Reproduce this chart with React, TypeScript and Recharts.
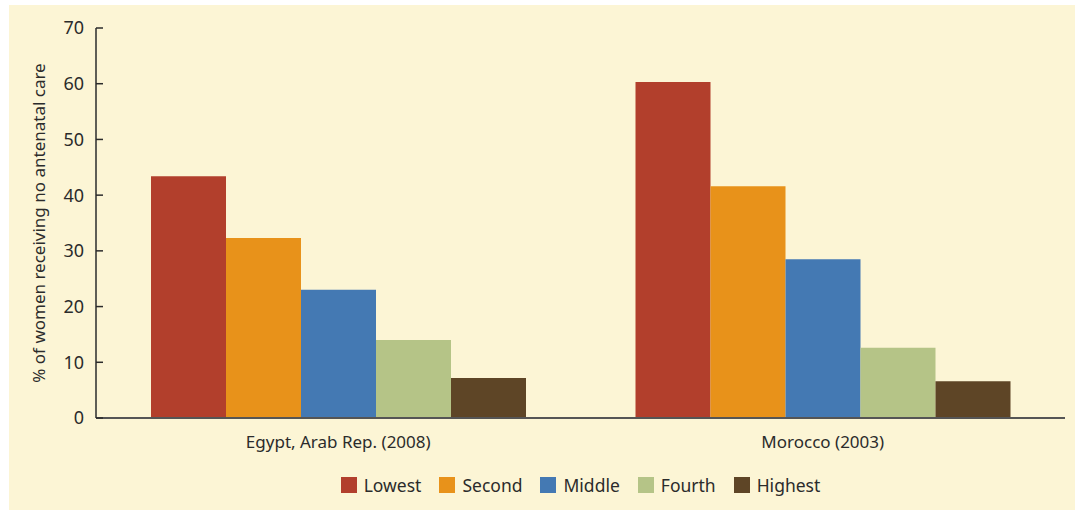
import { Bar, BarChart, Legend, XAxis, YAxis } from "recharts";

const countries = ["Egypt, Arab Rep. (2008)", "Morocco (2003)"];
const lowest = [43.4, 60.3];
const second = [32.3, 41.6];
const middle = [23.0, 28.5];
const fourth = [14.0, 12.6];
const highest = [7.2, 6.6];
const yTicks = [0, 10, 20, 30, 40, 50, 60, 70];

const series = [
  { key: "lowest", name: "Lowest", color: "#B23F2C" },
  { key: "second", name: "Second", color: "#E8921A" },
  { key: "middle", name: "Middle", color: "#4479B3" },
  { key: "fourth", name: "Fourth", color: "#B5C487" },
  { key: "highest", name: "Highest", color: "#5E4526" },
];

const data = countries.map((c, i) => ({
  country: c,
  lowest: lowest[i],
  second: second[i],
  middle: middle[i],
  fourth: fourth[i],
  highest: highest[i],
}));

const FONT = "'Noto Sans', sans-serif";
const TEXT = "#2b2b2b";

function LegendRow() {
  return (
    <div style={{ display: "flex", justifyContent: "center", alignItems: "center", gap: 18, height: 26, fontFamily: FONT, fontSize: 17.5, color: TEXT }}>
      {series.map((s) => (
        <div key={s.key} style={{ display: "flex", alignItems: "center" }}>
          <span style={{ width: 16, height: 16, background: s.color, display: "inline-block", marginRight: 7 }} />
          <span>{s.name}</span>
        </div>
      ))}
    </div>
  );
}

export default function App() {
  return (
    <div style={{ position: "absolute", left: 0, top: 0, width: 1075, height: 510, background: "#fff" }}>
      <div style={{ position: "absolute", left: 9, top: 5, right: 0, bottom: 0, background: "#FCF5D5" }} />
      <div style={{ position: "absolute", left: 0, top: 0 }}>
        <BarChart
          width={1075}
          height={510}
          data={data}
          margin={{ top: 28, right: 10, bottom: 35, left: 0 }}
          barCategoryGap={55}
          barGap={0}
        >
          <XAxis xAxisId="sep" type="number" domain={[0, 2]} ticks={[0, 1, 2]} tick={false} tickSize={-7} axisLine={false} height={1} tickLine={{ stroke: "#555", strokeWidth: 1.5 }} />
          <XAxis
            dataKey="country"
            tickLine={false}
            axisLine={{ stroke: "#555", strokeWidth: 2 }}
            height={30}
            tickMargin={12}
            tick={{ fill: TEXT, fontSize: 17, fontFamily: FONT }}
          />
          <YAxis
            width={96}
            domain={[0, 70]}
            ticks={yTicks}
            tickSize={-7}
            tickMargin={19}
            axisLine={{ stroke: "#2b2b2b", strokeWidth: 1.5 }}
            tickLine={{ stroke: "#2b2b2b", strokeWidth: 1.5 }}
            tick={{ fill: TEXT, fontSize: 18, fontFamily: FONT }}
            label={{
              content: ({ viewBox }: any) => {
                const cx = 38;
                const cy = viewBox.y + viewBox.height / 2;
                return (
                  <text x={cx} y={cy} transform={`rotate(-90 ${cx} ${cy})`} textAnchor="middle" dominantBaseline="central" fill={TEXT} fontSize={17} fontFamily={FONT}>
                    % of women receiving no antenatal care
                  </text>
                );
              },
            }}
          />
          <Legend content={() => <LegendRow />} wrapperStyle={{ left: 96, width: 969, top: 472 }} />
          {series.map((s) => (
            <Bar key={s.key} dataKey={s.key} name={s.name} fill={s.color} isAnimationActive={false} />
          ))}
        </BarChart>
      </div>
    </div>
  );
}
